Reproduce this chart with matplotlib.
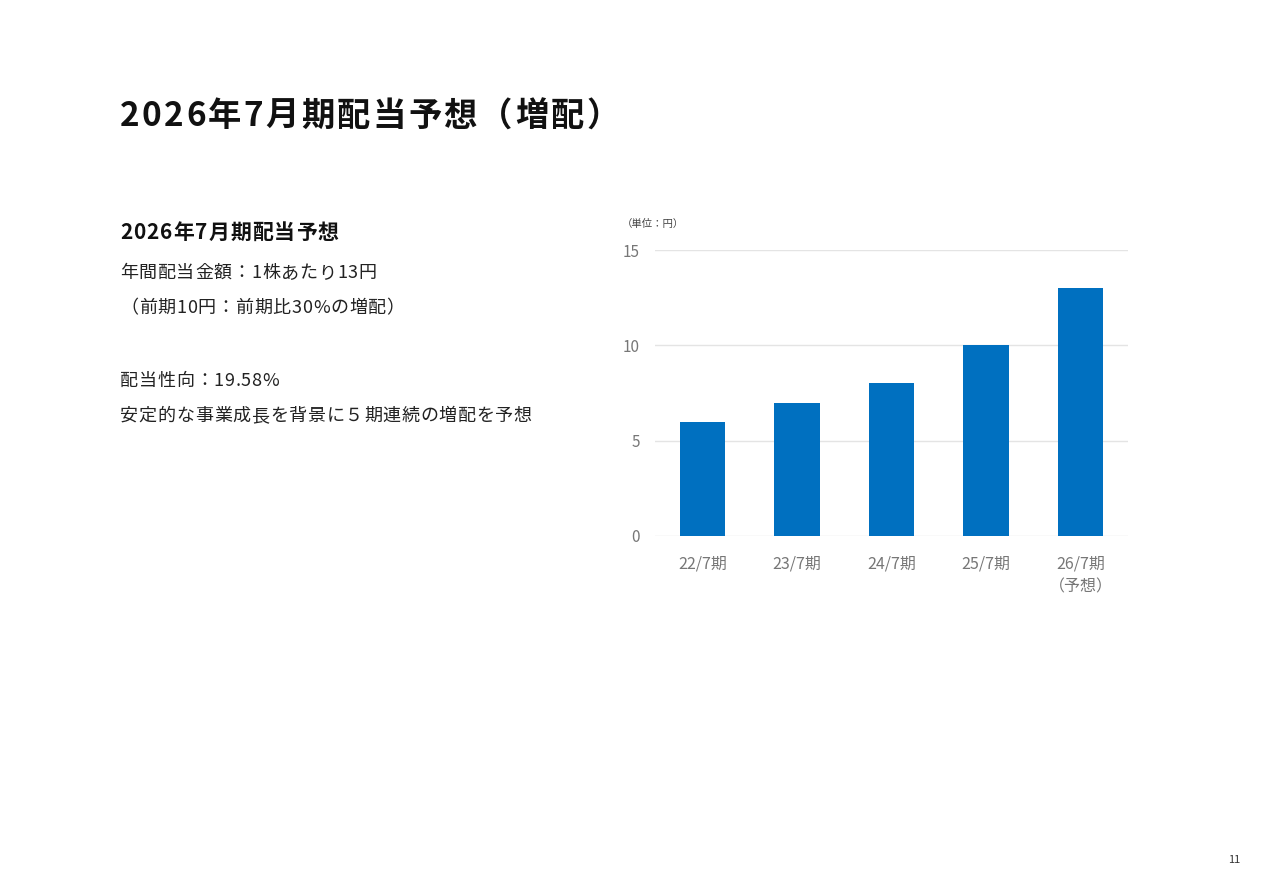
import matplotlib
matplotlib.use('Agg')
import matplotlib.pyplot as plt
from matplotlib import font_manager

plt.rcParams['font.family'] = ['Noto Sans CJK JP', 'DejaVu Sans']

# data
periods = ['22/7期', '23/7期', '24/7期', '25/7期', '26/7期\n（予想）']
dividends = [6, 7, 8, 10, 13]
yticks = [0, 5, 10, 15]

title = '2026年7月期配当予想（増配）'
subtitle = '2026年7月期配当予想'
body_lines = [
    '年間配当金額：1株あたり13円',
    '（前期10円：前期比30%の増配）',
    '配当性向：19.58%',
    '安定的な事業成長を背景に５期連続の増配を予想',
]
body_y = [278, 313, 386, 421]

W, H = 1263, 893
DPI = 100
fig = plt.figure(figsize=(W / DPI, H / DPI), dpi=DPI)


def fy(py):
    return 1 - py / H


def spaced_text(px, py, s, track, fontsize, fontweight='normal', **kw):
    # lay out glyphs by their advance widths, adding letter spacing (px)
    prop = font_manager.FontProperties(family='Noto Sans CJK JP',
                                       weight=fontweight)
    font = font_manager.get_font(font_manager.findfont(prop))
    font.set_size(fontsize, DPI)
    x = px
    for ch in s:
        g = font.load_char(ord(ch))
        adv = g.linearHoriAdvance / 65536
        fig.text((x + adv / 2) / W, fy(py), ch, ha='center', va='baseline',
                 fontsize=fontsize, fontweight=fontweight, **kw)
        x += adv + track
    return x


spaced_text(120, 126, title, 2.3, 24, 'bold', color='#111111')
spaced_text(120, 239, subtitle, 1.0, 15, 'bold', color='#111111')
for line, y in zip(body_lines, body_y):
    spaced_text(120, y, line, 0.7, 13, color='#222222')

fig.text(1234 / W, fy(860), '11', fontsize=8, va='center', ha='center',
         color='#333333')

# chart
ax = fig.add_axes([655 / W, fy(536), (1128 - 655) / W, (536 - 250) / H])
x = range(len(periods))
ax.bar(x, dividends, width=0.48, color='#0070C0', zorder=3)
ax.set_xlim(-0.5, len(periods) - 0.5)
ax.set_ylim(0, 15)
ax.set_yticks(yticks)
ax.set_xticks(list(x))
ax.set_xticklabels(periods, fontsize=11.5, color='#777777', linespacing=1.5)
ax.tick_params(axis='y', labelsize=11, labelcolor='#777777', length=0, pad=11)
ax.tick_params(axis='x', length=0, pad=14)
ax.grid(axis='y', color='#e4e4e4', linewidth=1, zorder=0)
for s in ax.spines.values():
    s.set_visible(False)

fig.text(622 / W, fy(224), '（単位：円）', fontsize=7.5, va='center', ha='left',
         color='#444444')

fig.savefig('out.png', dpi=DPI, facecolor='white')
